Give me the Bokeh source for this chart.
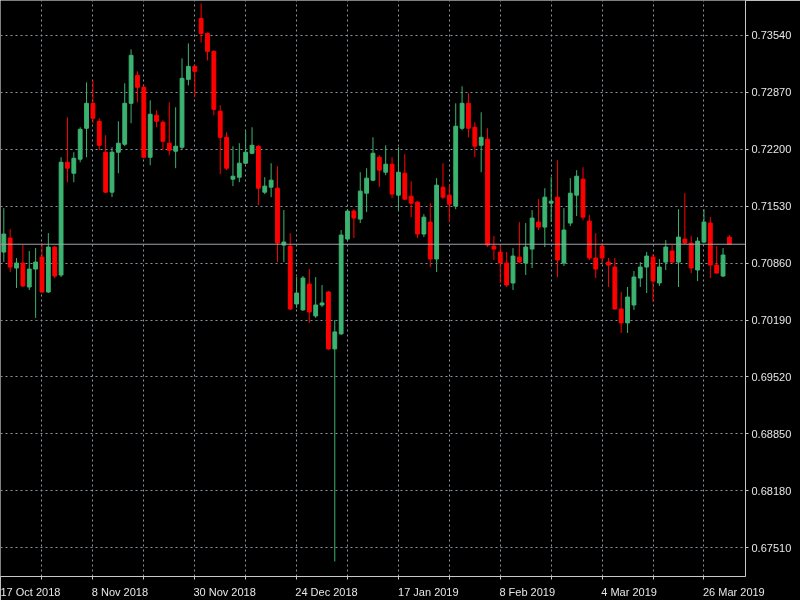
import pandas as pd
from bokeh.plotting import figure
from bokeh.models import ColumnDataSource, Range1d, FixedTicker, Span, Label
from bokeh.embed import file_html
from bokeh.resources import INLINE

# ---- data (daily OHLC) ----
opens = [0.70990, 0.71155, 0.70802, 0.70861, 0.70579, 0.70790, 0.70931, 0.70520, 0.71049, 0.70720,
         0.72047, 0.71918, 0.72083, 0.72447, 0.72741, 0.72529, 0.72165, 0.71695, 0.72165, 0.72259,
         0.72741, 0.73070, 0.72929, 0.72106, 0.72600, 0.72518, 0.72271, 0.72177, 0.72224, 0.73023,
         0.73176, 0.73740, 0.73563, 0.73352, 0.72647, 0.72341, 0.71848, 0.71871, 0.72036, 0.72153,
         0.72236, 0.71695, 0.71754, 0.71742, 0.71072, 0.71060, 0.70379, 0.70309, 0.70614, 0.70238,
         0.70367, 0.70520, 0.69850, 0.70027, 0.71143, 0.71472, 0.71378, 0.71683, 0.71836, 0.72106,
         0.71930, 0.72024, 0.71660, 0.71918, 0.71648, 0.71578, 0.71202, 0.71343, 0.70908, 0.71754,
         0.71660, 0.71531, 0.72447, 0.72741, 0.72459, 0.72247, 0.72318, 0.71060, 0.70990, 0.70861,
         0.70626, 0.70931, 0.70861, 0.71025, 0.71343, 0.71284, 0.71566, 0.71636, 0.70861, 0.71331,
         0.71660, 0.71848, 0.71354, 0.70920, 0.71060, 0.70872, 0.70814, 0.70320, 0.70156, 0.70367,
         0.70684, 0.70814, 0.70931, 0.70626, 0.70872, 0.71002, 0.70872, 0.71143, 0.71096, 0.70779,
         0.71108, 0.71331, 0.70837, 0.70708, 0.71166]
highs = [0.71507, 0.71260, 0.70920, 0.71072, 0.71002, 0.71037, 0.71096, 0.71213, 0.71060, 0.72106,
         0.72576, 0.72165, 0.72459, 0.72987, 0.73011, 0.72565, 0.72365, 0.72224, 0.72529, 0.72976,
         0.73375, 0.73117, 0.72952, 0.72776, 0.72659, 0.72541, 0.72753, 0.72694, 0.73270, 0.73446,
         0.73187, 0.73916, 0.73575, 0.73364, 0.72717, 0.72400, 0.72236, 0.72271, 0.72412, 0.72459,
         0.72247, 0.71871, 0.72036, 0.72001, 0.71484, 0.71213, 0.70696, 0.70708, 0.70790, 0.70696,
         0.70602, 0.70532, 0.70191, 0.71249, 0.71495, 0.71495, 0.71930, 0.71977, 0.72341, 0.72130,
         0.72247, 0.72106, 0.72224, 0.72142, 0.71824, 0.71589, 0.71437, 0.71566, 0.71860, 0.72036,
         0.71777, 0.72741, 0.72941, 0.72858, 0.72518, 0.72635, 0.72447, 0.71178, 0.71072, 0.70990,
         0.71037, 0.71343, 0.71331, 0.71484, 0.71613, 0.71742, 0.71871, 0.72071, 0.71507, 0.71860,
         0.71954, 0.71989, 0.71425, 0.71213, 0.71096, 0.70920, 0.70920, 0.70520, 0.70579, 0.70767,
         0.70872, 0.70990, 0.70967, 0.70908, 0.71131, 0.71072, 0.71495, 0.71683, 0.71178, 0.71166,
         0.71495, 0.71401, 0.71060, 0.71037, 0.71190]
lows = [0.70872, 0.70755, 0.70567, 0.70579, 0.70544, 0.70215, 0.70508, 0.70508, 0.70684, 0.70696,
        0.71812, 0.71812, 0.72047, 0.72106, 0.72506, 0.72189, 0.71683, 0.71636, 0.71918, 0.72236,
        0.72506, 0.72753, 0.72094, 0.72012, 0.72459, 0.72189, 0.72130, 0.71977, 0.72200, 0.72952,
        0.72811, 0.73458, 0.73246, 0.72600, 0.71907, 0.71954, 0.71766, 0.71812, 0.72024, 0.72142,
        0.71542, 0.71672, 0.71636, 0.70872, 0.70872, 0.70309, 0.70332, 0.70297, 0.70156, 0.70215,
        0.70344, 0.69839, 0.67348, 0.70015, 0.71131, 0.71155, 0.71331, 0.71460, 0.71824, 0.71754,
        0.71895, 0.71625, 0.71472, 0.71601, 0.71401, 0.71155, 0.71166, 0.70814, 0.70755, 0.71613,
        0.71343, 0.71495, 0.72424, 0.72341, 0.72106, 0.71930, 0.71049, 0.70896, 0.70626, 0.70579,
        0.70544, 0.70861, 0.70720, 0.70802, 0.71249, 0.71049, 0.71343, 0.70696, 0.70826, 0.71296,
        0.71413, 0.71366, 0.70896, 0.70684, 0.70861, 0.70579, 0.70309, 0.70038, 0.70038, 0.70309,
        0.70579, 0.70508, 0.70403, 0.70591, 0.70779, 0.70861, 0.70579, 0.71084, 0.70743, 0.70649,
        0.71096, 0.70684, 0.70732, 0.70696, 0.71072]
closes = [0.71202, 0.70814, 0.70861, 0.70591, 0.70790, 0.70872, 0.70520, 0.71049, 0.70708, 0.72047,
          0.71977, 0.72094, 0.72435, 0.72741, 0.72565, 0.72247, 0.71695, 0.72165, 0.72271, 0.72741,
          0.73305, 0.72929, 0.72106, 0.72612, 0.72529, 0.72294, 0.72189, 0.72236, 0.73035, 0.73176,
          0.73117, 0.73563, 0.73352, 0.72670, 0.72341, 0.71977, 0.71883, 0.72036, 0.72165, 0.72247,
          0.71742, 0.71766, 0.71836, 0.71096, 0.71108, 0.70320, 0.70508, 0.70684, 0.70285, 0.70367,
          0.70391, 0.69850, 0.70050, 0.71190, 0.71472, 0.71390, 0.71707, 0.71860, 0.72153, 0.71954,
          0.72024, 0.71672, 0.71930, 0.71613, 0.71566, 0.71202, 0.71401, 0.70908, 0.71777, 0.71636,
          0.71554, 0.72471, 0.72741, 0.72447, 0.72236, 0.72341, 0.71072, 0.71025, 0.70861, 0.70602,
          0.70943, 0.70872, 0.71049, 0.71390, 0.71284, 0.71636, 0.71589, 0.70896, 0.71249, 0.71683,
          0.71883, 0.71401, 0.70920, 0.70790, 0.70920, 0.70837, 0.70320, 0.70156, 0.70461, 0.70696,
          0.70814, 0.70943, 0.70649, 0.70814, 0.71049, 0.70872, 0.71166, 0.71096, 0.70802, 0.71119,
          0.71343, 0.70837, 0.70743, 0.70955, 0.71082]

bid_price = 0.71082
price_ticks = [0.67510, 0.68180, 0.68850, 0.69520, 0.70190, 0.70860, 0.71530, 0.72200, 0.72870, 0.73540]
date_labels = ["17 Oct 2018", "8 Nov 2018", "30 Nov 2018", "24 Dec 2018",
               "17 Jan 2019", "8 Feb 2019", "4 Mar 2019", "26 Mar 2019"]

# trading days (weekdays, no 25 Dec / 1 Jan bars)
all_days = [d for d in pd.bdate_range("2018-10-19", "2019-04-01")
            if d.strftime("%m-%d") not in ("12-25", "01-01")]
n = len(opens)
days = all_days[:n]
day_str = [d.strftime("%d %b %Y") for d in days]
idx = list(range(n))

GREEN = "#3cb371"
RED = "#ff0000"
colors = [GREEN if c >= o else RED for o, c in zip(opens, closes)]
src = ColumnDataSource(dict(x=idx, day=day_str, open=opens, high=highs, low=lows, close=closes,
                            top=[max(o, c) for o, c in zip(opens, closes)],
                            bottom=[min(o, c) for o, c in zip(opens, closes)],
                            color=colors))

PITCH = 6.365      # px per bar
X0 = 3.3           # px of first bar
FRAME_W, FRAME_H = 745, 577
PX_PRICE = 0.0001175
y_top = 0.73951
y_bot = y_top - FRAME_H * PX_PRICE

p = figure(width=800, height=600,
           x_range=Range1d(-X0 / PITCH, (FRAME_W - X0) / PITCH),
           y_range=Range1d(y_bot, y_top),
           x_axis_location="below", y_axis_location="right",
           output_backend="svg", toolbar_location=None,
           min_border_left=0, min_border_top=0, min_border_right=55, min_border_bottom=23)
p.styles = {"position": "fixed", "left": "0px", "top": "0px"}
p.background_fill_color = "black"
p.border_fill_color = "black"
p.outline_line_color = None

FONT = "Liberation Sans"
TXT = "#e6e6e6"
AXC = "#c8c8c8"

# vertical grid every 8 bars, labels every 16 bars (left-aligned like MT4)
grid_bars = list(range(6, n, 8))
label_bars = [-2] + [i for i in range(14, n, 16)]
label_pos = [b + (len(lab) * 2.9 - 2) / PITCH for b, lab in zip(label_bars, date_labels)]

p.xgrid.ticker = FixedTicker(ticks=grid_bars)
p.xgrid.grid_line_color = "#8a96a3"
p.xgrid.grid_line_dash = "2 3"
p.xgrid.grid_line_width = 1
p.ygrid.ticker = FixedTicker(ticks=price_ticks)
p.ygrid.grid_line_color = "#8a96a3"
p.ygrid.grid_line_dash = "2 3"
p.ygrid.grid_line_width = 1

xa = p.xaxis[0]
xa.ticker = FixedTicker(ticks=label_pos, minor_ticks=grid_bars)
xa.major_label_overrides = {pos: lab for pos, lab in zip(label_pos, date_labels)}
xa.axis_line_color = AXC
xa.major_tick_line_color = None
xa.major_tick_out = 0
xa.major_tick_in = 0
xa.minor_tick_line_color = AXC
xa.minor_tick_out = 3
xa.minor_tick_in = 0
xa.major_label_standoff = 6
xa.major_label_text_color = TXT
xa.major_label_text_font = FONT
xa.major_label_text_font_size = "11px"

ya = p.yaxis[0]
ya.ticker = FixedTicker(ticks=price_ticks)
ya.major_label_overrides = {t: f"{t:.5f}" for t in price_ticks}
ya.axis_line_color = AXC
ya.major_tick_line_color = AXC
ya.major_tick_out = 3
ya.major_tick_in = 0
ya.minor_tick_line_color = None
ya.major_label_standoff = 3
ya.major_label_text_color = TXT
ya.major_label_text_font = FONT
ya.major_label_text_font_size = "11px"

# bid line
p.add_layout(Span(location=bid_price, dimension="width", line_color="#9ea3ab", line_width=1))

# candles
p.segment(x0="x", y0="high", x1="x", y1="low", source=src, line_color="color", line_width=1)
p.vbar(x="x", width=0.6, top="top", bottom="bottom", source=src,
       fill_color="color", line_color="color", line_width=1)

# bid price box on the price scale
p.add_layout(Label(x=FRAME_W + 2, y=bid_price, x_units="screen", y_units="data",
                   text=f"{bid_price:.5f}", text_color="black", text_font=FONT,
                   text_font_size="11px", text_baseline="middle", text_align="left",
                   background_fill_color="white", border_line_color=AXC,
                   padding=2))

open("out.html", "w").write(file_html(p, INLINE))
